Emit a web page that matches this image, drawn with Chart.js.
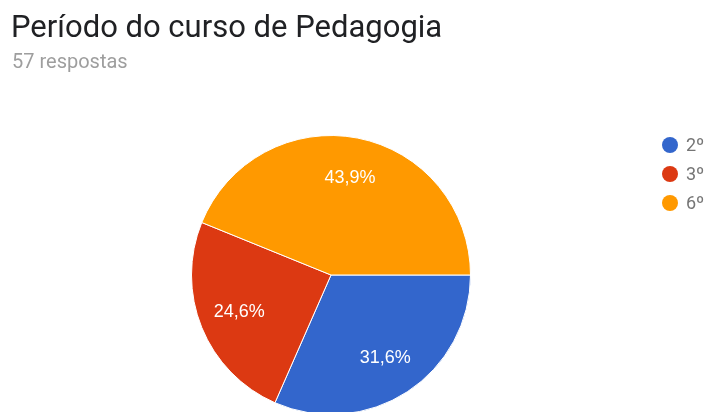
<!DOCTYPE html>
<html>
<head>
<meta charset="utf-8">
<script src="https://cdn.jsdelivr.net/npm/chart.js@4"></script>
<style>
  html, body { margin: 0; padding: 0; background: #fff; overflow: hidden; width: 707px; height: 412px; }
  #wrap { position: relative; width: 707px; height: 412px; overflow: hidden; }
  #chart { position: absolute; left: 0; top: 0; }
  .title { position: absolute; left: 11px; top: 8px; font-family: Roboto, sans-serif; font-size: 31px; color: #202124; white-space: nowrap; }
  .sub { position: absolute; left: 12px; top: 49px; font-family: Roboto, sans-serif; font-size: 20px; color: #9e9e9e; white-space: nowrap; }
</style>
</head>
<body>
<div id="wrap">
  <canvas id="chart" width="707" height="420"></canvas>
  <div class="title">Período do curso de Pedagogia</div>
  <div class="sub">57 respostas</div>
</div>
<script>
// Respostas por período (57 no total)
const categories = ['2º', '3º', '6º'];
const counts = [18, 14, 25];
const sliceColors = ['#3366cc', '#dc3912', '#ff9900'];

const total = counts.reduce((a, b) => a + b, 0);

// Percentage text inside each slice, placed at 70% of the radius
const sliceLabels = {
  id: 'sliceLabels',
  afterDatasetsDraw(chart) {
    const ctx = chart.ctx;
    const meta = chart.getDatasetMeta(0);
    ctx.save();
    ctx.font = '18px "Liberation Sans", Arial, sans-serif';
    ctx.fillStyle = '#ffffff';
    ctx.textAlign = 'center';
    ctx.textBaseline = 'middle';
    meta.data.forEach((arc, i) => {
      const p = arc.getProps(['x', 'y', 'startAngle', 'endAngle', 'outerRadius'], true);
      const mid = (p.startAngle + p.endAngle) / 2;
      const r = p.outerRadius * 0.71;
      const pct = (counts[i] / total * 100).toFixed(1).replace('.', ',') + '%';
      ctx.fillText(pct, p.x + Math.cos(mid) * r, p.y + Math.sin(mid) * r);
    });
    ctx.restore();
  }
};

// Legend column on the right with round markers
const sideLegend = {
  id: 'sideLegend',
  afterDraw(chart) {
    const ctx = chart.ctx;
    ctx.save();
    ctx.font = '18px Roboto, sans-serif';
    ctx.textBaseline = 'middle';
    ctx.textAlign = 'left';
    chart.data.labels.forEach((lab, i) => {
      const y = 145 + i * 29;
      ctx.fillStyle = chart.data.datasets[0].backgroundColor[i];
      ctx.beginPath();
      ctx.arc(670, y, 8, 0, Math.PI * 2);
      ctx.fill();
      ctx.fillStyle = '#757575';
      ctx.fillText(lab, 686, y + 1);
    });
    ctx.restore();
  }
};

new Chart(document.getElementById('chart'), {
  type: 'pie',
  data: {
    labels: categories,
    datasets: [{
      data: counts,
      backgroundColor: sliceColors,
      borderColor: '#ffffff',
      borderWidth: 1
    }]
  },
  options: {
    responsive: false,
    animation: false,
    rotation: 90,
    layout: { padding: { left: 191, right: 236, top: 135, bottom: 5 } },
    plugins: {
      legend: { display: false },
      tooltip: { enabled: false },
      title: { display: false }
    }
  },
  plugins: [sliceLabels, sideLegend]
});
</script>
</body>
</html>
